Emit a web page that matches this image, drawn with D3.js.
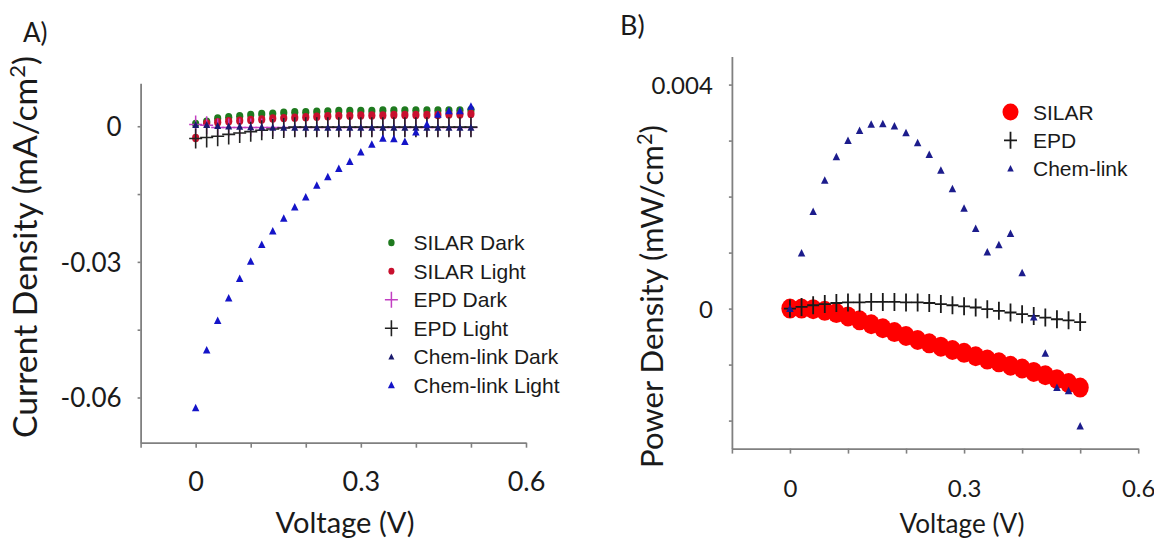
<!DOCTYPE html>
<html><head><meta charset="utf-8">
<script src="https://cdn.jsdelivr.net/npm/d3@7"></script>
<style>body{margin:0;background:#fff} svg{display:block}</style>
</head><body>
<svg id="chart" width="1154" height="545"></svg>
<script>
// ---------- DATA ----------
const voltage = [0,0.02,0.04,0.06,0.08,0.10,0.12,0.14,0.16,0.18,0.20,0.22,0.24,0.26,0.28,0.30,0.32,0.34,0.36,0.38,0.40,0.42,0.44,0.46,0.48,0.50];

// Panel A: current density (mA/cm2)
const silarDarkA  = [0.0005,0.0010,0.0017,0.0020,0.0022,0.0025,0.0027,0.0028,0.0030,0.0031,0.0031,0.0032,0.0033,0.0034,0.0034,0.0034,0.0034,0.0035,0.0035,0.0035,0.0035,0.0035,0.0035,0.0035,0.0035,0.0036];
const silarLightA = [-0.0026,0.0006,0.0009,0.0011,0.0012,0.0014,0.0015,0.0017,0.0018,0.0019,0.0020,0.0021,0.0022,0.0023,0.0023,0.0024,0.0024,0.0024,0.0025,0.0025,0.0025,0.0025,0.0025,0.0026,0.0026,0.0027];
const epdDarkA    = [0.0004,0.0002,-0.0003,-0.0003,-0.0003,-0.0003,-0.0003,-0.0003,-0.0003,-0.0003,-0.0003,-0.0003,-0.0003,-0.0003,-0.0003,-0.0003,-0.0003,-0.0003,-0.0003,-0.0003,-0.0003,-0.0003,-0.0003,-0.0003,-0.0003,-0.0003];
const epdLightA   = [-0.0027,-0.0025,-0.0022,-0.0018,-0.0015,-0.0012,-0.0009,-0.0006,-0.0004,-0.0002,-0.0002,-0.0002,-0.0002,-0.0002,-0.0002,-0.0002,-0.0002,-0.0002,-0.0002,-0.0002,-0.0002,-0.0002,-0.0002,-0.0002,-0.0002,-0.0002];
const chemDarkA   = [0.0003,0.0003,0.0001,0.0000,-0.0001,-0.0002,-0.0002,-0.0003,-0.0003,-0.0003,-0.0003,-0.0003,-0.0003,-0.0003,-0.0003,-0.0003,-0.0003,-0.0003,-0.0003,-0.0003,-0.0003,-0.0003,-0.0003,-0.0003,-0.0003,-0.0003];
const chemLightA  = [-0.0623,-0.0495,-0.0430,-0.0380,-0.0337,-0.0299,-0.0262,-0.0232,-0.0204,-0.0179,-0.0157,-0.0131,-0.0112,-0.0094,-0.0078,-0.0057,-0.0040,-0.0027,-0.0028,-0.0034,-0.0013,0.0004,0.0026,0.0034,0.0034,0.0044];

// Panel B: power density (mW/cm2)
const silarB = [0,0.00000,-0.00001,-0.00004,-0.00008,-0.00014,-0.00021,-0.00028,-0.00035,-0.00042,-0.00049,-0.00056,-0.00062,-0.00068,-0.00074,-0.00079,-0.00085,-0.00091,-0.00096,-0.00102,-0.00107,-0.00113,-0.00119,-0.00126,-0.00133,-0.00141];
const epdB   = [0,0.00003,0.00006,0.00008,0.00010,0.00011,0.00011,0.00012,0.00012,0.00012,0.00011,0.00011,0.00010,0.00008,0.00006,0.00004,0.00002,-0.00001,-0.00004,-0.00007,-0.00010,-0.00013,-0.00016,-0.00019,-0.00021,-0.00024];
const chemB  = [0,0.00099,0.00173,0.00229,0.00271,0.00300,0.00318,0.00329,0.00330,0.00326,0.00314,0.00296,0.00275,0.00247,0.00214,0.00179,0.00143,0.00101,0.00114,0.00134,0.00064,-0.00015,-0.00080,-0.00141,-0.00147,-0.00210];

// Axes / ticks
const xTickValues = [-0.1,0,0.1,0.2,0.3,0.4,0.5,0.6];
const xTickLabels = {"0":"0","0.3":"0.3","0.6":"0.6"};
const yTickValuesA = [0,-0.015,-0.03,-0.045,-0.06];
const yTickLabelsA = {"0":"0","-0.03":"-0.03","-0.06":"-0.06"};
const yTickValuesB = [0.004,0.003,0.002,0.001,0,-0.001,-0.002];
const yTickLabelsB = {"0.004":"0.004","0":"0"};

const legendA = ["SILAR Dark","SILAR Light","EPD Dark","EPD Light","Chem-link Dark","Chem-link Light"];
const legendB = ["SILAR","EPD","Chem-link"];

// ---------- DRAWING ----------
const svg = d3.select("#chart");
const TITLE_FONT = "Lato, 'Open Sans', sans-serif";
const LEG_FONT = "'Liberation Sans', Arial, sans-serif";
const AXIS_COL = "#808080";

const xA = d3.scaleLinear([-0.1,0.6],[140.6,526]);
const yA = d3.scaleLinear([-0.07,0.0095],[442.7,83.3]);
const xB = d3.scaleLinear([-0.1,0.6],[731.9,1138.2]);
const yB = d3.scaleLinear([-0.0025,0.0045],[448.6,56.6]);

function key(v){ return String(+v.toFixed(4)); }

function drawAxes(x, y, yTicks, yLabels, xFont, yFont){
  const g = svg.append("g");
  const gx = g.append("g").attr("transform",`translate(0,${y.range()[0]})`)
    .call(d3.axisBottom(x).tickValues(xTickValues).tickSize(5).tickSizeOuter(0)
      .tickFormat(d => xTickLabels[key(d)] || ""));
  const gy = g.append("g").attr("transform",`translate(${x.range()[0]},0)`)
    .call(d3.axisLeft(y).tickValues(yTicks).tickSize(3).tickSizeOuter(0)
      .tickFormat(d => yLabels[key(d)] || ""));
  [gx,gy].forEach(a=>{
    a.attr("font-family",null).attr("font-size",null);
    a.select(".domain").attr("stroke",AXIS_COL).attr("stroke-width",1.8);
    a.selectAll(".tick line").attr("stroke",AXIS_COL).attr("stroke-width",1.6);
    a.selectAll("text").attr("fill","#1a1a1a").style("font-family",TITLE_FONT);
  });
  gx.selectAll("text").attr("y",48).attr("dy",null).style("font-size",xFont+"px");
  gy.selectAll("text").attr("x",-19).attr("dy","0.36em").style("font-size",yFont+"px");
}

function fitWidth(t, target){
  const w = t.node().getBBox().width;
  const fs = parseFloat(t.style("font-size"));
  t.style("font-size",(fs*target/w)+"px");
}

function xTitle(cx, base, width){
  const t = svg.append("text").attr("x",cx).attr("y",base).attr("text-anchor","middle")
    .style("font-family",TITLE_FONT).style("font-size","26px").attr("fill","#1a1a1a")
    .text("Voltage (V)");
  fitWidth(t,width);
}
function yTitle(xBase, cy, pre, len){
  const t = svg.append("text").attr("transform",`translate(${xBase},${cy}) rotate(-90)`)
    .attr("text-anchor","middle").style("font-family",TITLE_FONT).style("font-size","28px").attr("fill","#1a1a1a");
  t.append("tspan").text(pre);
  t.append("tspan").attr("dy","-0.55em").style("font-size","65%").text("2");
  t.append("tspan").attr("dy","0.36em").text(")");
  fitWidth(t,len);
}

// shapes
function plusPath(hw,hh){ return `M${-hw},0H${hw}M0,${-hh}V${hh}`; }
function triPath(w,h){ return `M0,${-h*0.55}L${w/2},${h*0.45}L${-w/2},${h*0.45}Z`; }

function drawSeries(x, y, vals, spec){
  const g = svg.append("g");
  const pts = voltage.map((v,i)=>[x(v), y(vals[i])]);
  if(spec.type==="circle"){
    g.selectAll("ellipse").data(pts).join("ellipse")
      .attr("cx",d=>d[0]).attr("cy",d=>d[1]).attr("rx",spec.rx).attr("ry",spec.ry).attr("fill",spec.color);
  } else if(spec.type==="plus"){
    g.selectAll("path").data(pts).join("path")
      .attr("transform",d=>`translate(${d[0]},${d[1]})`).attr("d",plusPath(spec.hw,spec.hh))
      .attr("stroke",spec.color).attr("stroke-width",spec.sw).attr("fill","none");
  } else {
    g.selectAll("path").data(pts).join("path")
      .attr("transform",d=>`translate(${d[0]},${d[1]})`).attr("d",triPath(spec.w,spec.h))
      .attr("fill",spec.color);
  }
}
function legendMarker(cx, cy, spec){
  if(spec.type==="circle") svg.append("ellipse").attr("cx",cx).attr("cy",cy).attr("rx",spec.lrx||spec.rx).attr("ry",spec.lry||spec.ry).attr("fill",spec.color);
  else if(spec.type==="plus") svg.append("path").attr("transform",`translate(${cx},${cy})`).attr("d",plusPath(spec.lhw||spec.hw,spec.lhh||spec.hh)).attr("stroke",spec.color).attr("stroke-width",spec.sw).attr("fill","none");
  else svg.append("path").attr("transform",`translate(${cx},${cy})`).attr("d",triPath(spec.lw||spec.w,spec.lh||spec.h)).attr("fill",spec.color);
}

// ---- Panel A ----
drawAxes(xA, yA, yTickValuesA, yTickLabelsA, 27, 26);
const specsA = [
  {type:"circle",color:"#1f7a1f",rx:3.6,ry:4.2,lrx:3.2,lry:3.6},
  {type:"circle",color:"#c8102e",rx:3.6,ry:4.2,lrx:3.0,lry:3.4},
  {type:"plus",color:"#c23fc2",hw:6.5,hh:9,sw:1.5,lhw:6.5,lhh:8},
  {type:"plus",color:"#222222",hw:6.5,hh:10,sw:1.6,lhw:6.5,lhh:8},
  {type:"tri",color:"#1a1a6e",w:7,h:7,lw:6,lh:6},
  {type:"tri",color:"#1414c8",w:7.5,h:7.5,lw:7,lh:7}
];
const seriesA = [silarDarkA, silarLightA, epdDarkA, epdLightA, chemDarkA, chemLightA];
seriesA.forEach((s,i)=>drawSeries(xA,yA,s,specsA[i]));
legendA.forEach((name,i)=>{
  const cy = 242.7 + i*28.5;
  legendMarker(391.4, cy, specsA[i]);
  svg.append("text").attr("x",413.6).attr("y",cy+7.5).text(name)
    .style("font-family",LEG_FONT).style("font-size","21px").attr("fill","#1a1a1a");
});
xTitle(345, 533, 139);
yTitle(37, 247, "Current Density (mA/cm", 382);
svg.append("text").attr("x",23).attr("y",42).text("A)").style("font-family",TITLE_FONT).style("font-size","26px").attr("fill","#1a1a1a");

// ---- Panel B ----
drawAxes(xB, yB, yTickValuesB, yTickLabelsB, 24, 24);
const specsB = [
  {type:"circle",color:"#ff0000",rx:8.6,ry:10,lrx:8,lry:8.5},
  {type:"plus",color:"#1a1a1a",hw:6,hh:9,sw:1.8,lhw:6.5,lhh:8.5},
  {type:"tri",color:"#1c1c8c",w:7.5,h:7.5,lw:6.5,lh:6.5}
];
[silarB, epdB, chemB].forEach((s,i)=>drawSeries(xB,yB,s,specsB[i]));
legendB.forEach((name,i)=>{
  const cy = 112 + i*28.3;
  legendMarker(1010.5, cy, specsB[i]);
  svg.append("text").attr("x",1033).attr("y",cy+7.5).text(name)
    .style("font-family",LEG_FONT).style("font-size","21px").attr("fill","#1a1a1a");
});
xTitle(962, 533, 125);
yTitle(663, 296.5, "Power Density (mW/cm", 343);
svg.append("text").attr("x",620).attr("y",35).text("B)").style("font-family",TITLE_FONT).style("font-size","27px").attr("fill","#1a1a1a");
</script>
</body></html>
